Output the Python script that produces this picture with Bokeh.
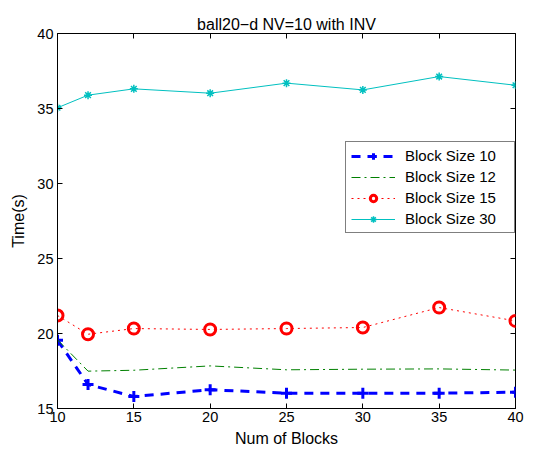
from bokeh.plotting import figure
from bokeh.models import LinearAxis, FixedTicker, Range1d, Legend, CustomJSTickFormatter
from bokeh.embed import file_html
from bokeh.resources import INLINE

blocks = [10, 12, 15, 20, 25, 30, 35, 40]
bs10 = [19.55, 16.6, 15.8, 16.25, 16.02, 16.02, 16.02, 16.09]
bs12 = [19.58, 17.49, 17.55, 17.84, 17.58, 17.62, 17.64, 17.56]
bs15 = [21.2, 19.95, 20.33, 20.27, 20.33, 20.4, 21.73, 20.84]
bs30 = [35.05, 35.89, 36.31, 36.02, 36.69, 36.24, 37.13, 36.55]
x_ticks = [10, 15, 20, 25, 30, 35, 40]
y_ticks = [15, 20, 25, 30, 35, 40]

FONT = "Liberation Sans"

p = figure(width=544, height=455, frame_width=458, frame_height=375,
           min_border_left=57, min_border_right=29, min_border_top=33, min_border_bottom=47,
           x_range=Range1d(10, 40), y_range=Range1d(15, 40),
           output_backend="svg", toolbar_location=None,
           title="ball20\u2212d NV=10 with INV")
p.title.align = "center"
p.title.text_font = FONT
p.title.text_font_size = "16px"
p.title.text_font_style = "normal"
p.title.text_color = "black"
p.title.standoff = 2

p.grid.visible = False
p.outline_line_color = "black"
p.outline_line_width = 1
p.background_fill_color = "white"
p.border_fill_color = "white"

for ax in [p.xaxis[0], p.yaxis[0]]:
    ax.major_tick_in = 5
    ax.major_tick_out = 0
    ax.minor_tick_in = 0
    ax.minor_tick_out = 0
    ax.axis_line_color = "black"
    ax.major_tick_line_color = "black"
    ax.major_label_text_font = FONT
    ax.major_label_text_font_size = "14.5px"
    ax.major_label_text_color = "black"
    ax.axis_label_text_font = FONT
    ax.axis_label_text_font_size = "16px"
    ax.axis_label_text_font_style = "normal"
    ax.axis_label_text_color = "black"
p.xaxis[0].ticker = FixedTicker(ticks=x_ticks)
p.yaxis[0].ticker = FixedTicker(ticks=y_ticks)
p.xaxis[0].axis_label = "Num of Blocks"
p.yaxis[0].axis_label = "Time(s)"
p.xaxis[0].major_label_standoff = 3
p.yaxis[0].major_label_standoff = 4
p.xaxis[0].axis_label_standoff = 5
p.yaxis[0].axis_label_standoff = 7

blank = CustomJSTickFormatter(code="return ''")
for loc, ticks in [("right", y_ticks), ("above", x_ticks)]:
    a = LinearAxis(ticker=FixedTicker(ticks=ticks), major_tick_in=5, major_tick_out=0,
                   minor_tick_in=0, minor_tick_out=0, axis_line_color=None,
                   formatter=blank, major_label_standoff=0)
    p.add_layout(a, loc)

l1 = p.line(blocks, bs10, line_color="#0000ff", line_width=3, line_dash="9 7")
m1 = p.scatter(blocks, bs10, marker="cross", size=11, line_color="#0000ff", line_width=3)
l2 = p.line(blocks, bs12, line_color="#008000", line_width=1, line_dash="9 4 2 4")
l3 = p.line(blocks, bs15, line_color="#ff0000", line_width=1, line_dash="2 4")
m3 = p.scatter(blocks, bs15, marker="circle", size=11, line_color="#ff0000", line_width=3,
               fill_color=None)
l4 = p.line(blocks, bs30, line_color="#00c0c0", line_width=1)
m4 = p.scatter(blocks, bs30, marker="asterisk", size=8, line_color="#00c0c0", line_width=1.5)

legend = Legend(items=[("Block Size 10", [l1, m1]), ("Block Size 12", [l2]),
                       ("Block Size 15", [l3, m3]), ("Block Size 30", [l4, m4])],
                location=(288, 175))
legend.border_line_color = "black"
legend.border_line_width = 1
legend.label_text_font = FONT
legend.label_text_font_size = "15px"
legend.label_text_color = "black"
legend.glyph_width = 44
legend.glyph_height = 16
legend.spacing = 4
legend.padding = 5
legend.margin = 0
legend.label_standoff = 10
legend.label_width = 104
legend.background_fill_alpha = 1
p.add_layout(legend, "center")

open("out.html", "w").write(file_html(p, INLINE))
